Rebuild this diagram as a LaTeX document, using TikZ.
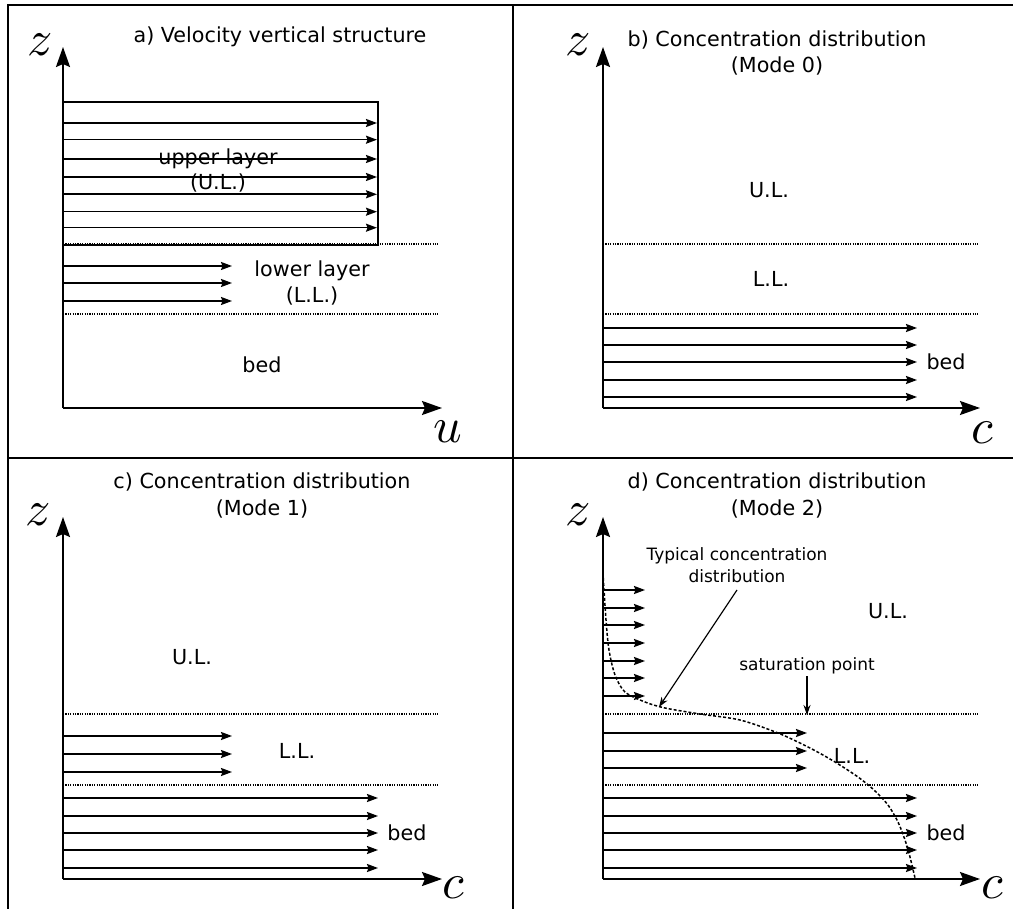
\documentclass[tikz,border=0pt]{standalone}
\usepackage{fontspec}
\setmainfont{DejaVu Sans}
\usetikzlibrary{arrows.meta}
\tikzset{
  frame/.style={line width=2pt},
  axis/.style={line width=2pt, -{Stealth[length=20pt,width=14pt,inset=3pt]}},
  flux/.style={line width=1.6pt, -{Stealth[length=11pt,width=8pt,inset=1.5pt]}},
  layer/.style={line width=1.2pt, dash pattern=on 1.2pt off 1.2pt},
  lbl/.style={font=\fontsize{20.7}{25}\selectfont, inner sep=0pt, anchor=base},
  note/.style={font=\fontsize{17}{21}\selectfont, inner sep=0pt, anchor=base},
  var/.style={scale=5, inner sep=0pt},
  profile/.style={line width=1.5pt, dash pattern=on 3pt off 2pt},
  pointer/.style={line width=1.2pt, -{Stealth[length=10pt,width=7pt]}},
  ulbox/.style={line width=1.6pt}
}
\begin{document}
\begin{tikzpicture}[x=1pt,y=-1pt]
\useasboundingbox (0,0) rectangle (1013,909);
% frame
\draw[frame] (8,909) -- (8,5) -- (1013,5);
\draw[frame] (513,5) -- (513,909);
\draw[frame] (8,458) -- (1013,458);

% ---------- panel a ----------
\coordinate (aO) at (63,408);
\coordinate (aZ) at (63,47);
\coordinate (aU) at (442,408);
\draw[ulbox] (63,102) rectangle (378,245);
\foreach \y in {123,139.7,159,177,194.3,211.7,227.7} \draw[flux] (63,\y) -- (377,\y);
\foreach \y in {266,283,301} \draw[flux] (63,\y) -- (232,\y);
\draw[layer] (63,244) -- (438,244);
\draw[layer] (63,314) -- (438,314);
\draw[axis] (aO) -- (aZ);
\draw[axis] (aO) -- (aU);
\node[var] (az) at (40,45) {$z$};
\node[var] (au) at (448,432) {$u$};
\node[lbl] (at) at (280,43) {a) Velocity vertical structure};
\node[lbl] (aul1) at (218,165) {upper layer};
\node[lbl] (aul2) at (218,190) {(U.L.)};
\node[lbl] (all1) at (312,277) {lower layer};
\node[lbl] (all2) at (312,303) {(L.L.)};
\node[lbl] (abed) at (262,373) {bed};

% ---------- panel b ----------
\coordinate (bO) at (603,408);
\coordinate (bZ) at (603,47);
\coordinate (bC) at (980,408);
\foreach \y in {328,345,362,380,397} \draw[flux] (603,\y) -- (917,\y);
\draw[layer] (603,244) -- (978,244);
\draw[layer] (603,314) -- (978,314);
\draw[axis] (bO) -- (bZ);
\draw[axis] (bO) -- (bC);
\node[var] (bz) at (578,45) {$z$};
\node[var] (bc) at (982,433) {$c$};
\node[lbl] (bt1) at (777,47) {b) Concentration distribution};
\node[lbl] (bt2) at (777,73) {(Mode 0)};
\node[lbl] (bul) at (769,198) {U.L.};
\node[lbl] (bll) at (771,287) {L.L.};
\node[lbl] (bbed) at (946,370) {bed};

% ---------- panel c ----------
\coordinate (cO) at (63,879);
\coordinate (cZ) at (63,517);
\coordinate (cC) at (442,879);
\foreach \y in {736,754,772} \draw[flux] (63,\y) -- (232,\y);
\foreach \y in {798,816,833,850,868} \draw[flux] (63,\y) -- (378,\y);
\draw[layer] (63,714) -- (438,714);
\draw[layer] (63,785) -- (438,785);
\draw[axis] (cO) -- (cZ);
\draw[axis] (cO) -- (cC);
\node[var] (cz) at (38,515) {$z$};
\node[var] (cc) at (453,888) {$c$};
\node[lbl] (ct1) at (262,489) {c) Concentration distribution};
\node[lbl] (ct2) at (262,515) {(Mode 1)};
\node[lbl] (cul) at (192,664) {U.L.};
\node[lbl] (cll) at (297,758) {L.L.};
\node[lbl] (cbed) at (407,840) {bed};

% ---------- panel d ----------
\coordinate (dO) at (603,879);
\coordinate (dZ) at (603,517);
\coordinate (dC) at (980,879);
\foreach \y in {590,608,625,643,661,678,696} \draw[flux] (603,\y) -- (645,\y);
\foreach \y in {733,751,768} \draw[flux] (603,\y) -- (807,\y);
\foreach \y in {798,816,833,850,868} \draw[flux] (603,\y) -- (917,\y);
\draw[layer] (603,714) -- (978,714);
\draw[layer] (603,785) -- (978,785);
\draw[profile] plot[smooth] coordinates {(603,573) (606,620) (609,650) (615,675) (625,692) (645,702) (665,708) (700,714) (740,720) (778,733) (810,748) (835,762) (858,777) (874,790) (888,805) (898,822) (905,840) (910,857) (915,878)};
\draw[axis] (dO) -- (dZ);
\draw[axis] (dO) -- (dC);
\node[var] (dz) at (578,515) {$z$};
\node[var] (dc) at (992,888) {$c$};
\node[lbl] (dt1) at (777,489) {d) Concentration distribution};
\node[lbl] (dt2) at (777,515) {(Mode 2)};
\node[note] (dn1) at (737,560) {Typical concentration};
\node[note] (dn2) at (737,582) {distribution};
\coordinate (dcurve) at (659,707);
\draw[pointer] (737,590) -- (dcurve);
\node[lbl] (dul) at (888,618) {U.L.};
\node[note] (dsat) at (807,670) {saturation point};
\coordinate (dsatpt) at (807,715);
\draw[pointer] (807,676) -- (dsatpt);
\node[lbl] (dll) at (852,763) {L.L.};
\node[lbl] (dbed) at (946,840) {bed};
\end{tikzpicture}
\end{document}
